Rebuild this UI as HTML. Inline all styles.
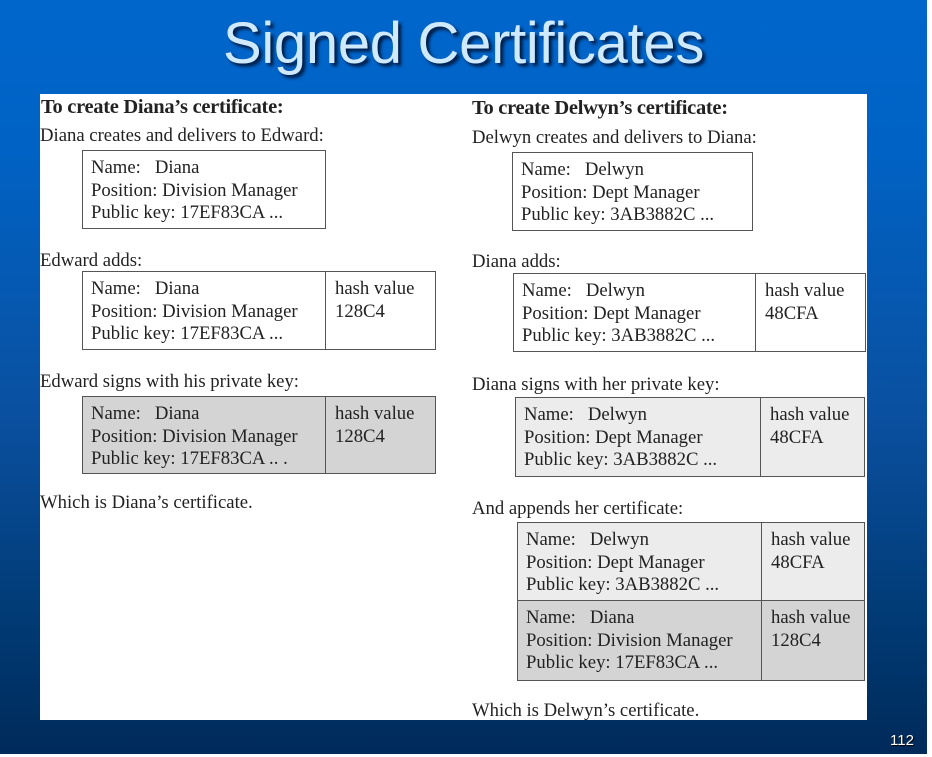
<!DOCTYPE html>
<html><head><meta charset="utf-8"><style>
*{margin:0;padding:0;box-sizing:border-box}
body{width:932px;height:757px;overflow:hidden;position:relative;background:#fff;font-family:"Liberation Serif",serif;color:#222}
#bg{position:absolute;left:0;top:0;width:927px;height:754px;background:linear-gradient(#0066cc 0%,#0062c4 20%,#0a50a0 55%,#003870 85%,#002a5a 100%)}
#title{position:absolute;left:0;width:927px;top:10px;text-align:center;font-family:"Liberation Sans",sans-serif;font-size:58px;color:#cfeaff;text-shadow:3px 3px 3px #001a40;letter-spacing:-0.3px}
#panel{position:absolute;left:40px;top:94px;width:827px;height:626px;background:#fff}
.t{position:absolute;font-size:18.7px;white-space:nowrap;line-height:22px}
.h{font-weight:bold;font-size:20.5px;letter-spacing:-0.3px}
.b{position:absolute;border:1.5px solid #555;font-size:18.7px;line-height:22.5px;white-space:nowrap}
.b .l{position:absolute;left:8px;top:6px}
.b .r{position:absolute;left:0;border-left:1.5px solid #555;height:100%;padding-left:9px;top:0;padding-top:6px}
.g1{background:#d4d4d4}.g2{background:#ececec}
#num{position:absolute;left:890px;top:732px;color:#fff;font-family:"Liberation Sans",sans-serif;font-size:15px;text-shadow:1px 1px 1px #000}
</style></head><body>
<div id="bg"></div>
<div id="title">Signed Certificates</div>
<div id="panel"></div>
<div class="t h" style="left:41px;top:96px">To create Diana’s certificate:</div>
<div class="t h" style="left:472px;top:97px">To create Delwyn’s certificate:</div>
<div class="t" style="left:40px;top:125px">Diana creates and delivers to Edward:</div>
<div class="b" style="left:82px;top:150px;width:244px;height:79px"><div class="l">Name:&nbsp;&nbsp; Diana<br>Position: Division Manager<br>Public key: 17EF83CA ...</div></div>
<div class="t" style="left:40px;top:250px">Edward adds:</div>
<div class="b" style="left:82px;top:271px;width:354px;height:79px"><div class="l">Name:&nbsp;&nbsp; Diana<br>Position: Division Manager<br>Public key: 17EF83CA ...</div><div class="r" style="left:242px">hash value<br>128C4</div></div>
<div class="t" style="left:40px;top:371px">Edward signs with his private key:</div>
<div class="b g1" style="left:82px;top:396px;width:354px;height:78px"><div class="l">Name:&nbsp;&nbsp; Diana<br>Position: Division Manager<br>Public key: 17EF83CA .. .</div><div class="r" style="left:242px">hash value<br>128C4</div></div>
<div class="t" style="left:40px;top:492px">Which is Diana’s certificate.</div>

<div class="t" style="left:472px;top:127px">Delwyn creates and delivers to Diana:</div>
<div class="b" style="left:512px;top:152px;width:241px;height:79px"><div class="l">Name:&nbsp;&nbsp; Delwyn<br>Position: Dept Manager<br>Public key: 3AB3882C ...</div></div>
<div class="t" style="left:472px;top:251px">Diana adds:</div>
<div class="b" style="left:513px;top:273px;width:353px;height:79px"><div class="l">Name:&nbsp;&nbsp; Delwyn<br>Position: Dept Manager<br>Public key: 3AB3882C ...</div><div class="r" style="left:241px">hash value<br>48CFA</div></div>
<div class="t" style="left:472px;top:374px">Diana signs with her private key:</div>
<div class="b g2" style="left:515px;top:397px;width:350px;height:80px"><div class="l">Name:&nbsp;&nbsp; Delwyn<br>Position: Dept Manager<br>Public key: 3AB3882C ...</div><div class="r" style="left:244px">hash value<br>48CFA</div></div>
<div class="t" style="left:472px;top:498px">And appends her certificate:</div>
<div class="b g2" style="left:517px;top:522px;width:348px;height:80px"><div class="l">Name:&nbsp;&nbsp; Delwyn<br>Position: Dept Manager<br>Public key: 3AB3882C ...</div><div class="r" style="left:243px">hash value<br>48CFA</div></div>
<div class="b g1" style="left:517px;top:600px;width:348px;height:81px"><div class="l">Name:&nbsp;&nbsp; Diana<br>Position: Division Manager<br>Public key: 17EF83CA ...</div><div class="r" style="left:243px">hash value<br>128C4</div></div>
<div class="t" style="left:472px;top:700px">Which is Delwyn’s certificate.</div>
<div id="num">112</div>
</body></html>
